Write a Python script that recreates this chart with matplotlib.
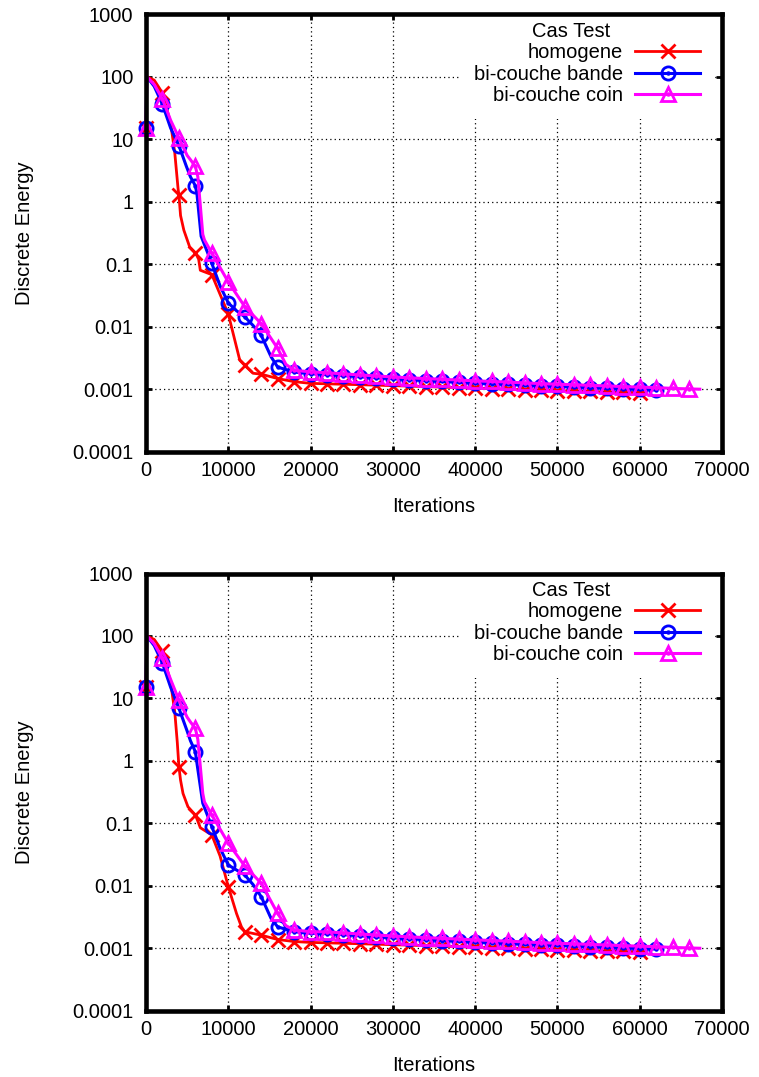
import matplotlib
matplotlib.use("Agg")
import matplotlib.pyplot as plt
from matplotlib.ticker import FixedLocator, FixedFormatter, NullLocator
from matplotlib.offsetbox import HPacker, DrawingArea

plt.rcParams['font.family'] = ['Liberation Sans', 'DejaVu Sans']
FS = 14.5
plt.rcParams['font.size'] = FS

# ---------------- data ----------------
legend_title = "Cas Test"
series_names = ["homogene", "bi-couche bande", "bi-couche coin"]
series_colors = ["#ff0000", "#0000ff", "#ff00ff"]
series_markers = ["x", "o", "^"]

y_ticks = [1e3, 1e2, 1e1, 1, 0.1, 0.01, 0.001, 0.0001]
y_tick_labels = ["1000", "100", "10", "1", "0.1", "0.01", "0.001", "0.0001"]
x_ticks = [0, 10000, 20000, 30000, 40000, 50000, 60000, 70000]
x_tick_labels = ["0", "10000", "20000", "30000", "40000", "50000", "60000", "70000"]

# common slowly decaying tails (iterations 22000, 24000, ...)
red_tail_x = list(range(22000, 60001, 2000)) + [60700]
red_tail_y = [0.00122, 0.00120, 0.00118, 0.00116, 0.00114, 0.00112, 0.00110,
              0.00108, 0.00106, 0.00104, 0.00102, 0.00100, 0.00098, 0.00097,
              0.00095, 0.00093, 0.00092, 0.00090, 0.00089, 0.00088, 0.00088]
blue_tail_x = list(range(22000, 62001, 2000))
blue_tail_y = [0.00171, 0.00165, 0.00158, 0.00152, 0.00147, 0.00142, 0.00137,
               0.00133, 0.00129, 0.00125, 0.00122, 0.00119, 0.00116, 0.00113,
               0.00111, 0.00108, 0.00106, 0.00103, 0.00101, 0.00099, 0.00097]
mag_tail_x = list(range(22000, 66001, 2000)) + [67300]
mag_tail_y = [0.00183, 0.00176, 0.00169, 0.00163, 0.00157, 0.00152, 0.00148,
              0.00144, 0.00140, 0.00136, 0.00133, 0.00130, 0.00126, 0.00123,
              0.00120, 0.00118, 0.00115, 0.00113, 0.00110, 0.00108, 0.00106,
              0.00103, 0.00101, 0.00100]

# top panel
top_red_x = [0, 100, 1000, 2000, 3000, 3500, 3900, 4000, 4200, 4600, 5300, 6000,
             6400, 6600, 8000, 10000, 11400, 12000, 13000, 14000, 16000, 18000, 20000]
top_red_y = [15, 100, 88, 55, 18, 6, 1.6, 1.29, 0.6, 0.35, 0.19, 0.153,
             0.12, 0.08, 0.068, 0.016, 0.0029, 0.0024, 0.0018, 0.00174, 0.00148, 0.00132, 0.00124]
top_blue_x = [0, 100, 1000, 2000, 3000, 4000, 4900, 5400, 6000, 6200, 6700, 8000,
              9000, 10000, 11000, 12000, 13000, 14000, 15200, 16000, 18000, 20000]
top_blue_y = [15, 100, 70, 36, 15, 7.9, 3.7, 2.5, 1.8, 1.3, 0.28, 0.103,
              0.045, 0.024, 0.018, 0.0144, 0.0105, 0.0073, 0.0033, 0.00226, 0.00188, 0.00177]
top_mag_x = [0, 100, 1000, 2000, 3000, 4000, 5000, 5400, 6000, 6300, 6900, 7100,
             8000, 10000, 12000, 14000, 16000, 17000, 18000, 20000]
top_mag_y = [15, 100, 75, 44, 20, 10.5, 5.5, 4.7, 3.67, 2.5, 0.3, 0.245,
             0.15, 0.052, 0.021, 0.0112, 0.0045, 0.0025, 0.002, 0.0019]

# bottom panel
bot_red_x = [0, 100, 1000, 2000, 3000, 3500, 3800, 4000, 4200, 4500, 5100, 6000,
             6400, 6600, 8000, 9000, 10000, 11000, 11600, 12000, 14000, 16000, 18000, 20000]
bot_red_y = [15, 100, 88, 57, 18, 6, 2, 0.81, 0.49, 0.30, 0.184, 0.136,
             0.1, 0.085, 0.065, 0.03, 0.0097, 0.0036, 0.0022, 0.00184, 0.00162, 0.00138, 0.00128, 0.00124]
bot_blue_x = [0, 100, 1000, 2000, 3000, 4000, 5000, 5400, 6000, 6200, 6900, 8000,
              9000, 10000, 12000, 13000, 14000, 15200, 16000, 18000, 20000]
bot_blue_y = [15, 100, 70, 36.6, 15, 6.95, 3, 2.1, 1.4, 0.9, 0.21, 0.0885,
              0.04, 0.0215, 0.0149, 0.0105, 0.0067, 0.003, 0.0022, 0.00184, 0.00174]
bot_mag_x = [0, 100, 1000, 2000, 3000, 4000, 5000, 5400, 6000, 6300, 6900, 7100,
             8000, 10000, 12000, 14000, 16000, 17000, 18000, 20000]
bot_mag_y = [15, 100, 75, 44, 20, 9.4, 5, 4.2, 3.3, 2.2, 0.3, 0.22,
             0.136, 0.048, 0.0207, 0.011, 0.0036, 0.0023, 0.00196, 0.00184]

panels = [
    [(top_red_x + red_tail_x, top_red_y + red_tail_y),
     (top_blue_x + blue_tail_x, top_blue_y + blue_tail_y),
     (top_mag_x + mag_tail_x, top_mag_y + mag_tail_y)],
    [(bot_red_x + red_tail_x, bot_red_y + red_tail_y),
     (bot_blue_x + blue_tail_x, bot_blue_y + blue_tail_y),
     (bot_mag_x + mag_tail_x, bot_mag_y + mag_tail_y)],
]

MARK_STEP = 2000

# ---------------- figure ----------------
fig = plt.figure(figsize=(7.59, 10.77), dpi=100)
W, H = 759.0, 1077.0
axes_px = [(146, 14.2, 722, 451.7), (146, 573.5, 722, 1010.7)]

for (x0, y0, x1, y1), series in zip(axes_px, panels):
    ax = fig.add_axes([x0 / W, 1 - y1 / H, (x1 - x0) / W, (y1 - y0) / H])
    ax.set_yscale('log')
    ax.set_xlim(0, 70000)
    ax.set_ylim(1e-4, 1e3)

    handles = []
    for (xs, ys), name, col, mk in zip(series, series_names, series_colors, series_markers):
        idx = [i for i, xv in enumerate(xs) if xv % MARK_STEP == 0]
        if mk == 'x':
            ln, = ax.plot(xs, ys, color=col, lw=2.0, marker='x', markersize=10,
                          markeredgewidth=2.0, markevery=idx, clip_on=False, label=name)
            handles.append(ln)
        else:
            ln, = ax.plot(xs, ys, color=col, lw=2.2, marker=mk, markersize=10 if mk == '^' else 9.5,
                          markerfacecolor='none', markeredgewidth=2.0, markevery=idx,
                          clip_on=False, label=name)
            dot, = ax.plot([xs[i] for i in idx], [ys[i] for i in idx], ls='none', marker='o',
                           markersize=2.2, color=col, clip_on=False)
            handles.append((ln, dot))

    ax.yaxis.set_major_locator(FixedLocator(y_ticks))
    ax.yaxis.set_major_formatter(FixedFormatter(y_tick_labels))
    ax.yaxis.set_minor_locator(NullLocator())
    ax.xaxis.set_major_locator(FixedLocator(x_ticks))
    ax.xaxis.set_major_formatter(FixedFormatter(x_tick_labels))

    ax.grid(True, which='major', color='black', linestyle=(0, (1, 2.5)), linewidth=0.9)
    for sp in ax.spines.values():
        sp.set_linewidth(3.3)
        sp.set_zorder(3)
    ax.tick_params(which='major', direction='in', length=4, width=2,
                   top=True, right=True, labelsize=FS, color='black')
    ax.tick_params(axis='y', pad=9)
    ax.tick_params(axis='x', pad=7)

    ax.set_xlabel("Iterations", fontsize=FS)
    ax.set_ylabel("Discrete Energy", fontsize=FS)
    ax.xaxis.set_label_coords(0.5, -0.104)
    ax.yaxis.set_label_coords(-0.194, 0.5)

    leg = ax.legend(handles, series_names, title=legend_title, loc='upper right',
                    bbox_to_anchor=(0.986, 1.015), markerfirst=False, frameon=True,
                    fancybox=False, framealpha=1.0, facecolor='white', edgecolor='none',
                    fontsize=FS, title_fontsize=FS, handlelength=3.2, handletextpad=0.6,
                    labelspacing=0.12, borderpad=0.7, borderaxespad=0.0, numpoints=1)
    leg.set_zorder(2.8)
    # shift the centred title a little to the left (over the label column),
    # as gnuplot does, by packing an empty spacer on its right
    try:
        spacer = DrawingArea(23, 1)
        title_row = HPacker(children=[leg._legend_title_box, spacer], pad=0, sep=0)
        title_row.set_figure(fig)
        leg._legend_box._children[0] = title_row
    except Exception:
        pass

fig.savefig("out.png", dpi=100)
